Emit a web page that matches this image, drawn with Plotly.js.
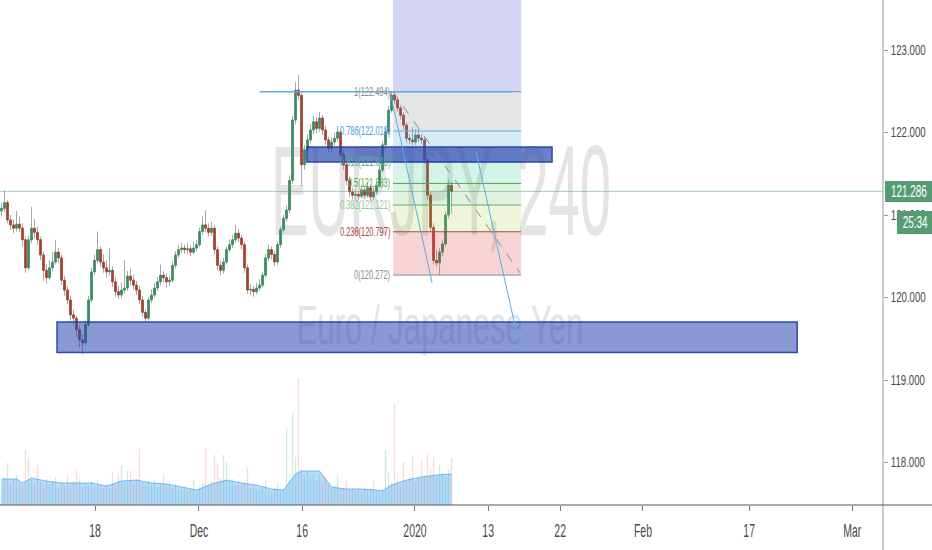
<!DOCTYPE html>
<html>
<head>
<meta charset="utf-8">
<script src="https://cdn.plot.ly/plotly-3.0.1.min.js"></script>
<style>
  html, body { margin: 0; padding: 0; background: #ffffff; }
  #wrap { position: relative; width: 932px; height: 550px; overflow: hidden; }
  #wm { position: absolute; left: 0; top: 0; }
  #chart { position: absolute; left: 0; top: 0; width: 932px; height: 550px; }
</style>
</head>
<body>
<div id="wrap">
  <svg id="wm" width="932" height="550"></svg>
  <div id="chart"></div>
</div>
<script>
// EURJPY, 4h candles
const open = [
  121.05,121.08,121.15,120.94,120.88,120.84,120.89,120.84,120.70,120.36,
  120.70,120.84,120.79,120.70,120.515,120.33,120.24,120.36,120.43,120.55,
  120.48,120.21,120.09,119.97,119.79,119.75,119.61,119.485,119.45,119.67,
  119.97,120.31,120.45,120.58,120.43,120.36,120.31,120.33,120.19,120.07,
  120.03,120.09,120.115,120.26,120.21,120.15,120.09,119.97,119.82,119.75,
  119.97,120.03,120.115,120.19,120.27,120.24,120.19,120.21,120.39,120.515,
  120.58,120.60,120.58,120.59,120.55,120.60,120.64,120.80,120.88,120.84,
  120.79,120.84,120.58,120.39,120.33,120.43,120.58,120.64,120.70,120.78,
  120.72,120.64,120.36,120.09,120.10,120.07,120.115,120.15,120.27,120.48,
  120.58,120.52,120.43,120.64,120.82,120.96,121.06,121.42,122.15,122.515,
  122.45,121.61,121.79,121.91,122.03,122.13,122.05,122.176,122.03,121.91,
  121.81,121.885,121.93,122.006,121.73,121.61,121.42,121.28,121.24,121.25,
  121.23,121.30,121.24,121.33,121.22,121.28,121.36,121.545,121.85,122.006,
  122.27,122.454,122.394,122.297,122.21,122.09,121.93,121.91,121.885,121.97,
  121.93,121.91,121.67,121.24,120.85,120.45,120.42,120.55,120.65,121.00,
  121.36
];
const high = [
  121.14,121.30,121.18,121.00,120.95,121.05,120.98,120.90,120.74,120.75,
  121.10,120.95,120.86,120.74,120.56,120.40,120.45,120.55,120.70,120.60,
  120.52,120.26,120.14,120.02,119.85,119.78,119.66,119.56,119.72,120.02,
  120.36,120.52,120.80,120.62,120.52,120.45,120.60,120.38,120.25,120.14,
  120.18,120.45,120.32,120.35,120.28,120.20,120.14,120.02,119.86,120.01,
  120.10,120.18,120.25,120.40,120.32,120.29,120.26,120.44,120.56,120.64,
  120.66,120.64,120.66,120.63,120.68,120.70,120.85,120.98,121.06,120.90,
  120.92,120.88,120.62,120.45,120.48,120.62,120.70,120.76,120.88,120.83,
  120.76,120.68,120.40,120.16,120.14,120.18,120.22,120.31,120.53,120.64,
  120.62,120.56,120.68,120.86,121.00,121.12,121.48,122.20,122.61,122.70,
  122.50,121.85,121.98,122.10,122.20,122.18,122.25,122.21,122.08,121.95,
  121.94,122.00,122.08,122.04,121.78,121.66,121.47,121.33,121.31,121.29,
  121.36,121.34,121.40,121.37,121.34,121.42,121.60,121.90,122.06,122.32,
  122.494,122.48,122.42,122.33,122.24,122.12,121.98,122.06,122.04,122.05,
  121.98,121.94,121.70,121.28,120.90,120.58,120.60,120.70,121.04,121.43,
  121.40
];
const low = [
  120.98,121.03,120.90,120.82,120.78,120.80,120.79,120.62,120.30,120.33,
  120.66,120.72,120.64,120.45,120.20,120.17,120.21,120.32,120.40,120.42,
  120.15,120.02,119.92,119.72,119.66,119.52,119.40,119.31,119.42,119.64,
  119.94,120.27,120.42,120.38,120.30,120.24,120.27,120.13,120.00,119.98,
  119.99,120.05,120.08,120.15,120.10,120.03,119.92,119.76,119.70,119.72,
  119.93,120.00,120.08,120.15,120.18,120.12,120.14,120.18,120.35,120.48,
  120.54,120.53,120.52,120.50,120.52,120.56,120.61,120.76,120.79,120.74,
  120.75,120.52,120.33,120.27,120.29,120.40,120.55,120.60,120.66,120.67,
  120.58,120.30,120.04,120.03,120.01,120.04,120.08,120.12,120.24,120.44,
  120.46,120.38,120.40,120.60,120.78,120.92,121.02,121.38,122.10,122.40,
  121.35,121.55,121.74,121.87,121.98,121.99,122.01,121.97,121.85,121.76,
  121.77,121.84,121.90,121.68,121.55,121.36,121.22,121.19,121.19,121.18,
  121.20,121.19,121.21,121.17,121.18,121.25,121.33,121.52,121.80,121.97,
  122.24,122.34,122.25,122.16,122.04,121.88,121.86,121.84,121.85,121.88,
  121.86,121.62,121.18,120.80,120.40,120.38,120.27,120.50,120.62,120.96,
  121.02
];
const close = [
  121.08,121.15,120.94,120.88,120.84,120.89,120.84,120.70,120.36,120.70,
  120.84,120.79,120.70,120.515,120.33,120.24,120.36,120.43,120.55,120.48,
  120.21,120.09,119.97,119.79,119.75,119.61,119.485,119.45,119.67,119.97,
  120.31,120.45,120.58,120.43,120.36,120.31,120.33,120.19,120.07,120.03,
  120.09,120.115,120.26,120.21,120.15,120.09,119.97,119.82,119.75,119.97,
  120.03,120.115,120.19,120.27,120.24,120.19,120.21,120.39,120.515,120.58,
  120.60,120.58,120.59,120.55,120.60,120.64,120.80,120.88,120.84,120.79,
  120.84,120.58,120.39,120.33,120.43,120.58,120.64,120.70,120.78,120.72,
  120.64,120.36,120.09,120.10,120.07,120.115,120.15,120.27,120.48,120.58,
  120.52,120.43,120.64,120.82,120.96,121.06,121.42,122.15,122.515,122.45,
  121.61,121.79,121.91,122.03,122.13,122.05,122.176,122.03,121.91,121.81,
  121.885,121.93,122.006,121.73,121.61,121.42,121.28,121.24,121.25,121.23,
  121.30,121.24,121.33,121.22,121.28,121.36,121.545,121.85,122.006,122.27,
  122.454,122.394,122.297,122.21,122.09,121.93,121.91,121.885,121.97,121.93,
  121.91,121.67,121.24,120.85,120.45,120.42,120.55,120.65,121.00,121.36,
  121.286
];
const volume = [
  2400,2800,4200,2100,2600,3000,2200,1900,5500,4800,
  2500,2200,4000,2300,1800,2600,2000,2400,2800,1700,
  2300,1900,3000,2100,2400,3600,2600,1800,2200,2000,
  2400,1900,2500,2100,1700,2200,1600,3300,2000,3000,
  4000,2200,3400,3400,2100,2600,5600,2300,1900,2400,
  2000,2500,1800,2200,3000,1900,2300,1700,2100,1600,
  1500,1900,1400,1700,2500,1300,1800,2200,5700,2100,
  2400,5000,4200,2700,5000,4300,2300,2600,2000,2400,
  1900,2200,3800,1700,2000,1600,1500,1800,2500,1400,
  1300,1700,2200,1400,1600,7700,3100,9200,4800,12700,
  3600,2900,3300,2700,3000,2500,3100,2300,2800,2000,
  1700,1900,3000,1600,1800,2400,1500,1700,1400,1600,
  1300,1800,1500,1700,2400,1400,1200,1600,5500,3300,
  2200,10200,2600,2000,4300,2400,2800,5000,2300,2700,
  4500,3000,5200,3600,4800,2900,4000,3200,2800,3500,
  4700
];
// volume moving average, sampled at these bars
const volMaBar = [0,5,7,10,15,20,25,30,35,40,45,50,55,60,65,70,75,80,85,90,94,98,100,106,110,115,120,125,127,130,135,140,145,150];
const volMa    = [2600,2600,2200,2700,2400,2200,2200,2200,1900,2400,2500,2200,2100,1800,1500,2100,2500,2200,2000,1600,1500,3100,3400,3400,1800,1600,1600,1500,1400,2000,2500,2800,3000,3100];

// time axis labels
const tickBars   = [31.2, 65.8, 100.2, 137.8, 162.2, 186.2, 213.8, 249.2, 283.5];
const tickLabels = ['18', 'Dec', '16', '2020', '13', '22', 'Feb', '17', 'Mar'];
const priceTicks = [118, 119, 120, 121, 122, 123];

// Fibonacci retracement drawn from the swing high to the swing low
const fibBars        = [130.5, 173.2];
const fibRatios      = ['1', '0.786', '0.618', '0.5', '0.382', '0.236', '0'];
const fibPrices      = [122.494, 122.018, 121.645, 121.383, 121.121, 120.797, 120.272];
const fibLineColors  = ['#8a8a8a', '#5aaee6', '#2aa08a', '#43a854', '#5fb06a', '#a8473c', '#8a8a8a'];
const fibLabelColors = ['#8a8a8a', '#4aa0dc', '#52a878', '#4caf50', '#8cc98c', '#a8473c', '#8a8a8a'];
const fibZoneColors  = ['rgba(120,123,134,0.2)', 'rgba(70,160,215,0.22)', 'rgba(40,200,150,0.2)',
                        'rgba(76,175,80,0.18)', 'rgba(160,200,40,0.18)', 'rgba(220,60,60,0.22)'];
const fibTopColor    = 'rgba(120,120,220,0.32)';

// supply / demand zones
const zoneBars   = [[101.8, 183.5], [18.5, 265.2]];
const zonePrices = [[121.642, 121.824], [119.333, 119.703]];
const zoneFills  = ['rgba(40,70,175,0.68)', 'rgba(40,70,175,0.55)'];

// trend lines
const trendBars   = [[129.5, 143.5], [158.2, 172.8]];
const trendPrices = [[122.494, 120.18], [121.76, 119.39]];
const pathBars    = [130.5, 172.8];
const pathPrices  = [122.494, 120.30];
const resistanceBars = [86, 170.2];

const symbolText = 'EURJPY, 240';
const symbolName = 'Euro / Japanese Yen';
const countdown  = '25:34';

const FONT = '"Liberation Sans", Arial, sans-serif';
const GREEN = '#3b8d63', RED = '#a9402f', WICK = '#a8a8a8', TAG = '#559c73';
const priceRange = [117.485, 123.606];

// background watermark
(function () {
  const svg = document.getElementById('wm');
  const ns = 'http://www.w3.org/2000/svg';
  function addText(str, cx, baseline, size, sx) {
    const t = document.createElementNS(ns, 'text');
    t.setAttribute('x', 0);
    t.setAttribute('y', baseline);
    t.setAttribute('transform', 'translate(' + cx + ',0) scale(' + sx + ',1)');
    t.setAttribute('text-anchor', 'middle');
    t.setAttribute('font-family', FONT);
    t.setAttribute('font-size', size);
    t.setAttribute('fill', '#e4e4e4');
    t.textContent = str;
    svg.appendChild(t);
  }
  addText(symbolText, 441, 235, 128, 0.44);
  addText(symbolName, 440, 344, 56, 0.555);
})();

const bars = open.map((_, i) => i);
const bodyHigh = open.map((o, i) => Math.max(o, close[i]));
const bodyLow  = open.map((o, i) => Math.min(o, close[i]));
const volColors = open.map((o, i) => close[i] >= o ? 'rgba(38,166,120,0.22)' : 'rgba(239,83,80,0.22)');

const traces = [
  { type: 'bar', x: bars, y: volume, yaxis: 'y2', width: 0.45,
    marker: { color: volColors, line: { width: 0 } }, hoverinfo: 'skip' },
  { type: 'scatter', mode: 'lines', x: volMaBar, y: volMa, yaxis: 'y2',
    fill: 'tozeroy', fillcolor: 'rgba(33,150,243,0.33)',
    line: { color: 'rgba(33,150,243,0.55)', width: 1 }, hoverinfo: 'skip' },
  { type: 'candlestick', x: bars, open: open, high: high, low: low, close: close,
    whiskerwidth: 0,
    increasing: { line: { color: WICK, width: 1 }, fillcolor: WICK },
    decreasing: { line: { color: WICK, width: 1 }, fillcolor: WICK },
    hoverinfo: 'skip' },
  { type: 'candlestick', x: bars, open: open, high: bodyHigh, low: bodyLow, close: close,
    whiskerwidth: 0,
    increasing: { line: { color: GREEN, width: 1 }, fillcolor: GREEN },
    decreasing: { line: { color: RED, width: 1 }, fillcolor: RED },
    hoverinfo: 'skip' }
];

const last = close[close.length - 1];
const shapes = [];
// zone above the 1 level
shapes.push({ type: 'rect', xref: 'x', yref: 'y', x0: fibBars[0], x1: fibBars[1],
  y0: fibPrices[0], y1: priceRange[1] + 1, fillcolor: fibTopColor, line: { width: 0 } });
for (let k = 0; k < fibPrices.length - 1; k++) {
  shapes.push({ type: 'rect', xref: 'x', yref: 'y', x0: fibBars[0], x1: fibBars[1],
    y0: fibPrices[k], y1: fibPrices[k + 1], fillcolor: fibZoneColors[k], line: { width: 0 } });
}
fibPrices.forEach((p, k) => {
  shapes.push({ type: 'line', xref: 'x', yref: 'y', x0: fibBars[0], x1: fibBars[1],
    y0: p, y1: p, line: { color: fibLineColors[k], width: 1 } });
});
// resistance at the swing high
shapes.push({ type: 'line', xref: 'x', yref: 'y', x0: resistanceBars[0], x1: resistanceBars[1],
  y0: fibPrices[0], y1: fibPrices[0], line: { color: '#5aaee6', width: 1.5 } });
// zones
zoneBars.forEach((b, k) => {
  shapes.push({ type: 'rect', xref: 'x', yref: 'y', x0: b[0], x1: b[1],
    y0: zonePrices[k][0], y1: zonePrices[k][1], fillcolor: zoneFills[k],
    line: { color: 'rgba(40,65,170,0.95)', width: 1.5 } });
});
// trend lines
trendBars.forEach((b, k) => {
  shapes.push({ type: 'line', xref: 'x', yref: 'y', x0: b[0], x1: b[1],
    y0: trendPrices[k][0], y1: trendPrices[k][1], line: { color: '#5aaee6', width: 1 } });
});
shapes.push({ type: 'line', xref: 'x', yref: 'y', x0: pathBars[0], x1: pathBars[1],
  y0: pathPrices[0], y1: pathPrices[1], line: { color: '#8c8c8c', width: 1, dash: 'dash' } });
// last price line
shapes.push({ type: 'line', xref: 'paper', yref: 'y', x0: 0, x1: 1, y0: last, y1: last,
  line: { color: 'rgba(83,158,116,0.5)', width: 1 } });
// axis lines continuing into the margins
shapes.push({ type: 'line', xref: 'paper', yref: 'paper', x0: 1, x1: 1, y0: -0.1, y1: 1,
  line: { color: '#9a9a9a', width: 1 } });
shapes.push({ type: 'line', xref: 'paper', yref: 'paper', x0: 0, x1: 1.06, y0: 0, y1: 0,
  line: { color: '#555555', width: 1 } });
// price tag and bar countdown boxes on the price scale
shapes.push({ type: 'rect', xref: 'paper', yref: 'y', xsizemode: 'pixel', ysizemode: 'pixel',
  xanchor: 1, yanchor: last, x0: 2, x1: 50, y0: -10.5, y1: 10.5,
  fillcolor: TAG, line: { width: 0 } });
shapes.push({ type: 'rect', xref: 'paper', yref: 'y', xsizemode: 'pixel', ysizemode: 'pixel',
  xanchor: 1, yanchor: last, x0: 14, x1: 50, y0: -42.5, y1: -19.5,
  fillcolor: TAG, line: { width: 0 } });

const annotations = fibPrices.map((p, k) => ({
  xref: 'x', yref: 'y', x: fibBars[0], y: p, xanchor: 'right', yanchor: 'middle', xshift: -1,
  text: fibRatios[k] + '(' + p.toFixed(3) + ')', showarrow: false,
  font: { family: FONT, size: 12, color: fibLabelColors[k] }
}));
annotations.push({
  xref: 'paper', yref: 'y', x: 1, y: last, xanchor: 'center', yanchor: 'middle', xshift: 25.5,
  text: last.toFixed(3), showarrow: false,
  font: { family: FONT, size: 16, color: '#ffffff' }
});
annotations.push({
  xref: 'paper', yref: 'y', x: 1, y: last, xanchor: 'center', yanchor: 'middle', xshift: 31.5, yshift: -31,
  text: countdown, showarrow: false,
  font: { family: FONT, size: 16, color: '#ffffff' }
});

const layout = {
  width: 932, height: 550,
  margin: { l: 0, r: 49, t: 0, b: 45, pad: 0 },
  paper_bgcolor: 'rgba(0,0,0,0)', plot_bgcolor: 'rgba(0,0,0,0)',
  showlegend: false,
  font: { family: FONT, size: 12, color: '#4a4a4a' },
  xaxis: {
    range: [-0.5, 293.8], tickmode: 'array', tickvals: tickBars, ticktext: tickLabels,
    ticks: 'outside', ticklen: 5, tickcolor: '#777', showline: false,
    showgrid: false, zeroline: false, rangeslider: { visible: false }, fixedrange: true,
    tickfont: { family: FONT, size: 19, color: '#4a4a4a' }, ticklabelstandoff: 3
  },
  yaxis: {
    side: 'right', range: priceRange, tickmode: 'array', tickvals: priceTicks,
    tickformat: '.3f', ticks: 'outside', ticklen: 4, tickcolor: '#999', showline: false,
    showgrid: false, zeroline: false, fixedrange: true,
    tickfont: { family: FONT, size: 14, color: '#4a4a4a' }
  },
  yaxis2: { overlaying: 'y', range: [0, 50500], visible: false, fixedrange: true },
  shapes: shapes,
  annotations: annotations
};

// narrow the label glyphs horizontally around a fixed anchor point
function squeeze(el, s, anchor) {
  const b = el.getBBox();
  const ax = anchor === 'left' ? b.x : anchor === 'right' ? b.x + b.width : b.x + b.width / 2;
  const t = el.getAttribute('transform') || '';
  el.setAttribute('transform', t + ' translate(' + ax + ',0) scale(' + s + ',1) translate(' + (-ax) + ',0)');
}

Plotly.newPlot('chart', traces, layout, { displayModeBar: false, staticPlot: true }).then(gd => {
  gd.querySelectorAll('.xtick text').forEach(el => squeeze(el, 0.55, 'center'));
  gd.querySelectorAll('.ytick text').forEach(el => squeeze(el, 0.69, 'left'));
  const notes = gd.querySelectorAll('.annotation text.annotation-text');
  notes.forEach((el, k) => {
    if (k < fibPrices.length) squeeze(el, 0.62, 'right');
    else squeeze(el, 0.62, 'center');
  });
});
</script>
</body>
</html>
